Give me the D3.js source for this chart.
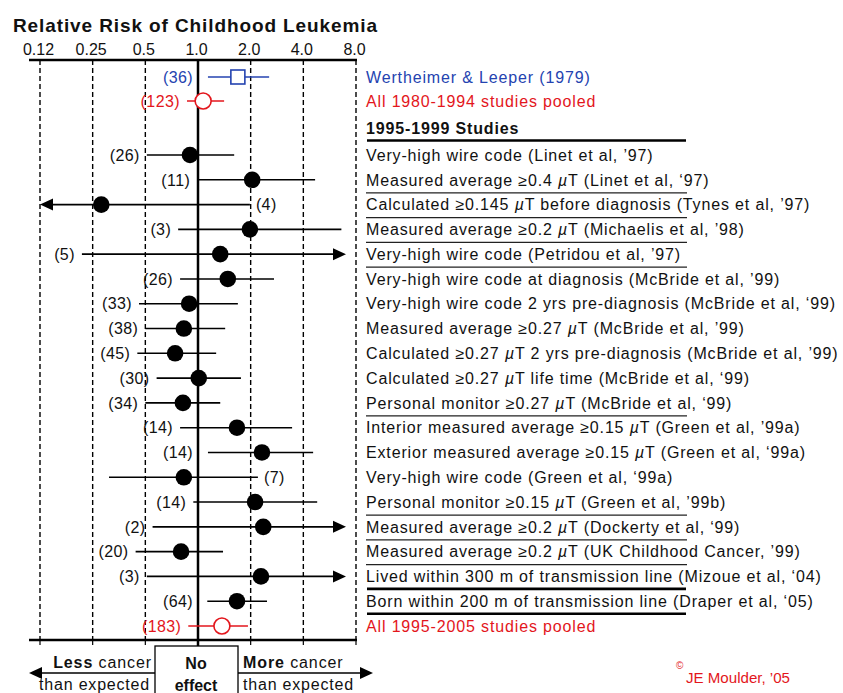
<!DOCTYPE html>
<html><head><meta charset="utf-8">
<script src="https://cdn.jsdelivr.net/npm/d3@7"></script>
<style>
body{margin:0;background:#fff}
svg{display:block}
text{font-family:"Liberation Sans",Arial,Helvetica,sans-serif}
</style>
</head><body>
<svg id="chart" width="843" height="693"></svg>
<script>
// ---------------- DATA ----------------
const studyLabels = [
  "Wertheimer & Leeper (1979)",
  "All 1980-1994 studies pooled",
  "1995-1999 Studies",
  "Very-high wire code (Linet et al, \u201997)",
  "Measured average \u22650.4 \u00b5T (Linet et al, \u201897)",
  "Calculated \u22650.145 \u00b5T before diagnosis (Tynes et al, \u201997)",
  "Measured average \u22650.2 \u00b5T (Michaelis et al, \u201998)",
  "Very-high wire code (Petridou et al, \u201997)",
  "Very-high wire code at diagnosis (McBride et al, \u201999)",
  "Very-high wire code 2 yrs pre-diagnosis (McBride et al, \u201899)",
  "Measured average \u22650.27 \u00b5T (McBride et al, \u201999)",
  "Calculated \u22650.27 \u00b5T 2 yrs pre-diagnosis (McBride et al, \u201999)",
  "Calculated \u22650.27 \u00b5T life time (McBride et al, \u201899)",
  "Personal monitor \u22650.27 \u00b5T (McBride et al, \u201899)",
  "Interior measured average \u22650.15 \u00b5T (Green et al, \u201999a)",
  "Exterior measured average \u22650.15 \u00b5T (Green et al, \u201899a)",
  "Very-high wire code (Green et al, \u201899a)",
  "Personal monitor \u22650.15 \u00b5T (Green et al, \u201999b)",
  "Measured average \u22650.2 \u00b5T (Dockerty et al, \u201899)",
  "Measured average \u22650.2 \u00b5T (UK Childhood Cancer, \u201999)",
  "Lived within 300 m of transmission line (Mizoue et al, \u201804)",
  "Born within 200 m of transmission line (Draper et al, \u201805)",
  "All 1995-2005 studies pooled"
];
const studyGroups = ["original","pooled","header","study","study","study","study","study","study","study","study","study","study","study","study","study","study","study","study","study","study","study","pooled"];
const caseCounts = [36,123,null,26,11,4,3,5,26,33,38,45,30,34,14,14,7,14,2,20,3,64,183];
const relRisk  = [1.69,1.07,null,0.90,2.04,0.28,1.98,1.34,1.48,0.89,0.83,0.74,1.01,0.82,1.67,2.32,0.83,2.12,2.36,0.80,2.29,1.67,1.37];
const ciLow    = [1.14,0.865,null,0.51,0.99,0,0.77,0.217,0.79,0.46,0.50,0.45,0.58,0.50,0.79,1.14,0.31,0.94,0.55,0.44,0.51,1.13,0.88];
const ciHigh   = [2.55,1.41,null,1.61,4.67,1.98,6.6,Infinity,2.72,1.69,1.43,1.27,1.76,1.34,3.45,4.55,2.20,4.8,Infinity,1.39,Infinity,2.48,1.93];
const countAfterBar = [5,16];            // rows whose count label sits to the right of the bar
const thinRuleRows  = [4,5,6,7,13,17,18,19];
const thickRuleRows = [2,20,21];
const tickValues = [0.125,0.25,0.5,1,2,4,8];
const tickLabels = ["0.12","0.25","0.5","1.0","2.0","4.0","8.0"];

// ---------------- LAYOUT ----------------
const svg = d3.select("#chart");
const font = "16px";
const ls = "0.85px";
const colors = {original:"#2443b0", pooled:"#e3161c", study:"#000", header:"#000"};
const x = d3.scaleLog().base(2).domain([0.125, 8]).range([40, 356]);
const y = d3.scaleLinear().domain([0, 1, 3, 22]).range([77, 101, 155, 626]);
const topY = 60, botY = 640;
const labelX = 366;

// title
svg.append("text").attr("x", 13).attr("y", 32)
  .attr("font-size", "19px").attr("font-weight", "bold").attr("fill", "#111")
  .attr("textLength", 364).attr("lengthAdjust", "spacing")
  .text("Relative Risk of Childhood Leukemia");

// top axis labels
const axis = d3.axisTop(x).tickValues(tickValues).tickSize(0).tickPadding(0)
  .tickFormat((d, i) => tickLabels[i]);
const gAxis = svg.append("g").attr("transform", `translate(-2,${topY - 5})`).call(axis);
gAxis.select(".domain").remove();
gAxis.selectAll("text").attr("font-size", font).attr("fill", "#111")
  .attr("font-family", '"Liberation Sans",Arial,sans-serif');

// dashed grid
svg.append("g").selectAll("line").data(tickValues.filter(v => v !== 1)).join("line")
  .attr("x1", d => x(d)).attr("x2", d => x(d))
  .attr("y1", topY).attr("y2", botY)
  .attr("stroke", "#000").attr("stroke-width", 1.4).attr("stroke-dasharray", "5,3");

// bottom ticks
svg.append("g").selectAll("line").data(tickValues).join("line")
  .attr("x1", d => x(d)).attr("x2", d => x(d))
  .attr("y1", botY).attr("y2", botY + 5)
  .attr("stroke", "#000").attr("stroke-width", 1.2);

// axis lines
[topY, botY].forEach(yy => {
  svg.append("line").attr("x1", x(0.125) - 11).attr("x2", x(8) + 1)
    .attr("y1", yy).attr("y2", yy).attr("stroke", "#000").attr("stroke-width", 2.5);
});
// no-effect line
svg.append("line").attr("x1", x(1)).attr("x2", x(1))
  .attr("y1", topY).attr("y2", 646).attr("stroke", "#000").attr("stroke-width", 2.5);

// rows
const rows = studyLabels.map((label, i) => ({
  i, label, group: studyGroups[i], n: caseCounts[i],
  rr: relRisk[i], lo: ciLow[i], hi: ciHigh[i]
}));
const dataRows = rows.filter(d => d.group !== "header");
const xMin = x.domain()[0], xMax = x.domain()[1];

function arrow(g, tipX, yy, dir, color) {
  const L = 13, H = 6;
  g.append("path")
    .attr("d", `M${tipX},${yy} L${tipX - dir * L},${yy - H} L${tipX - dir * L},${yy + H} Z`)
    .attr("fill", color);
}

dataRows.forEach(d => {
  const g = svg.append("g");
  const c = colors[d.group];
  const yy = y(d.i);
  const offLeft = d.lo < xMin, offRight = d.hi > xMax;
  const x1 = offLeft ? x(xMin) + 8 : x(d.lo);
  const rightTip = x(xMax) - 10;
  const x2 = offRight ? rightTip - 8 : x(d.hi);
  g.append("line").attr("x1", x1).attr("x2", x2).attr("y1", yy).attr("y2", yy)
    .attr("stroke", c).attr("stroke-width", 1.6);
  if (offLeft) arrow(g, x(xMin), yy, -1, c);
  if (offRight) arrow(g, rightTip, yy, 1, c);

  // marker
  if (d.group === "original") {
    g.append("rect").attr("x", x(d.rr) - 7).attr("y", yy - 7).attr("width", 14).attr("height", 14)
      .attr("fill", "#fff").attr("stroke", c).attr("stroke-width", 1.6);
  } else if (d.group === "pooled") {
    g.append("circle").attr("cx", x(d.rr)).attr("cy", yy).attr("r", 8)
      .attr("fill", "#fff").attr("stroke", c).attr("stroke-width", 1.6);
  } else {
    g.append("circle").attr("cx", x(d.rr)).attr("cy", yy).attr("r", 8.3).attr("fill", "#000");
  }

  // count label
  const t = g.append("text").attr("y", yy).attr("dy", "0.36em").attr("font-size", font)
    .attr("letter-spacing", "0.4px")
    .attr("fill", c === "#000" ? "#111" : c).text(`(${d.n})`);
  if (countAfterBar.includes(d.i)) {
    t.attr("x", x2 + 6).attr("text-anchor", "start");
  } else {
    const edge = Math.min(x1 - 7, x(1) - 5);
    t.attr("x", edge).attr("text-anchor", "end");
  }
});

// right-hand labels
rows.forEach(d => {
  const t = svg.append("text").attr("x", labelX).attr("y", y(d.i)).attr("dy", "0.36em")
    .attr("font-size", font).attr("letter-spacing", ls)
    .attr("fill", d.group === "original" ? colors.original : d.group === "pooled" ? colors.pooled : "#111")
    .attr("font-weight", d.group === "header" ? "bold" : "normal");
  const parts = d.label.split("\u00b5");
  parts.forEach((p, k) => {
    if (k > 0) t.append("tspan").attr("font-style", "italic").text("\u00b5");
    t.append("tspan").text(p);
  });
});

// underline rules
svg.append("g").selectAll("line").data(thinRuleRows).join("line")
  .attr("x1", labelX).attr("x2", 687)
  .attr("y1", d => y(d) + 13).attr("y2", d => y(d) + 13)
  .attr("stroke", "#222").attr("stroke-width", 1.3);
svg.append("g").selectAll("line").data(thickRuleRows).join("line")
  .attr("x1", labelX + 1).attr("x2", 686)
  .attr("y1", d => y(d) + 12.5).attr("y2", d => y(d) + 12.5)
  .attr("stroke", "#000").attr("stroke-width", 2.6);

// bottom legend
const cx1 = x(1);
svg.append("rect").attr("x", cx1 - 43).attr("y", 646).attr("width", 83).attr("height", 60)
  .attr("fill", "#fff").attr("stroke", "#000").attr("stroke-width", 1.3);
svg.append("text").attr("x", cx1 - 2).attr("y", 669).attr("text-anchor", "middle")
  .attr("font-size", font).attr("font-weight", "bold").attr("fill", "#111").text("No");
svg.append("text").attr("x", cx1 - 2).attr("y", 691).attr("text-anchor", "middle")
  .attr("font-size", font).attr("font-weight", "bold").attr("fill", "#111").text("effect");
// arrows
const ay = 673;
svg.append("line").attr("x1", cx1 - 43).attr("x2", 38).attr("y1", ay).attr("y2", ay).attr("stroke", "#000").attr("stroke-width", 1.3);
arrow(svg, 29, ay, -1, "#000");
svg.append("line").attr("x1", cx1 + 40).attr("x2", 362).attr("y1", ay).attr("y2", ay).attr("stroke", "#000").attr("stroke-width", 1.3);
arrow(svg, 373, ay, 1, "#000");

const lc = svg.append("text").attr("x", 152).attr("y", 668).attr("text-anchor", "end")
  .attr("font-size", font).attr("letter-spacing", "0.9px").attr("fill", "#111");
lc.append("tspan").attr("font-weight", "bold").text("Less");
lc.append("tspan").text(" cancer");
svg.append("text").attr("x", 150).attr("y", 690).attr("text-anchor", "end")
  .attr("font-size", font).attr("letter-spacing", "0.8px").attr("fill", "#111").text("than expected");
const mc = svg.append("text").attr("x", 243).attr("y", 668)
  .attr("font-size", font).attr("letter-spacing", "0.9px").attr("fill", "#111");
mc.append("tspan").attr("font-weight", "bold").text("More");
mc.append("tspan").text(" cancer");
svg.append("text").attr("x", 243).attr("y", 690)
  .attr("font-size", font).attr("letter-spacing", "0.8px").attr("fill", "#111").text("than expected");

// credit
svg.append("text").attr("x", 676).attr("y", 669).attr("font-size", "10px").attr("fill", colors.pooled).text("\u00a9");
svg.append("text").attr("x", 686).attr("y", 683).attr("font-size", "14px").attr("fill", colors.pooled)
  .attr("textLength", 104).attr("lengthAdjust", "spacingAndGlyphs").text("JE Moulder, \u201905");
</script>
</body></html>
